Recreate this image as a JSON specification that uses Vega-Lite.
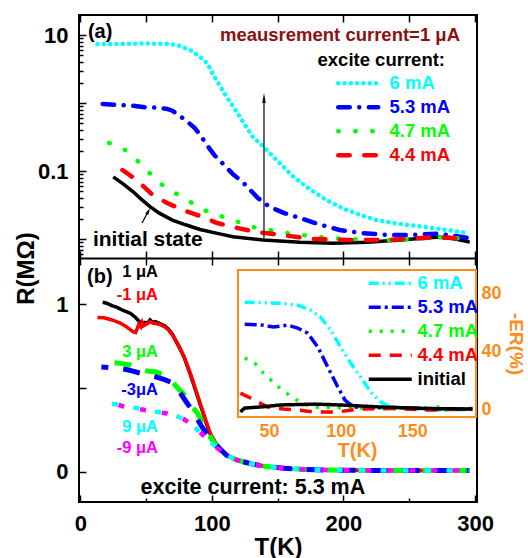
{
"$schema": "https://vega.github.io/schema/vega-lite/v6.json",
"width": 398,
"height": 487,
"autosize": {"type": "none"},
"padding": {"left": 79, "top": 15, "right": 51, "bottom": 56},
"background": "white",
"config": {
  "view": {"stroke": "black", "strokeWidth": 2},
  "font": "Liberation Sans",
  "axis": {"domain": false, "grid": false, "labelFont": "Liberation Sans", "labelFontSize": 22, "labelFontWeight": "bold", "labelColor": "black", "tickColor": "black", "tickWidth": 1.5, "titleFont": "Liberation Sans", "titleFontSize": 24, "titleFontWeight": "bold", "titleColor": "black", "labelFlush": false, "labelOverlap": false},
  "text": {"font": "Liberation Sans", "fontWeight": "bold"},
  "legend": {"labelFont": "Liberation Sans", "labelFontWeight": "bold"}
},
"datasets": {
  "a_excite": [
    {"series":"6 mA","T":13,"R":7.35},{"series":"6 mA","T":30,"R":7.4},{"series":"6 mA","T":50,"R":7.5},{"series":"6 mA","T":68,"R":7.4},{"series":"6 mA","T":76,"R":6.9},{"series":"6 mA","T":85,"R":5.8},{"series":"6 mA","T":92,"R":4.6},{"series":"6 mA","T":97,"R":3.7},{"series":"6 mA","T":101,"R":2.6},{"series":"6 mA","T":106,"R":1.8},{"series":"6 mA","T":111,"R":1.25},{"series":"6 mA","T":116,"R":0.9},{"series":"6 mA","T":121,"R":0.64},{"series":"6 mA","T":126,"R":0.45},{"series":"6 mA","T":131,"R":0.32},{"series":"6 mA","T":139,"R":0.23},{"series":"6 mA","T":150,"R":0.14},{"series":"6 mA","T":162,"R":0.082},{"series":"6 mA","T":175,"R":0.053},{"series":"6 mA","T":187,"R":0.0375},{"series":"6 mA","T":200,"R":0.028},{"series":"6 mA","T":213,"R":0.0225},{"series":"6 mA","T":225,"R":0.019},{"series":"6 mA","T":238,"R":0.0172},{"series":"6 mA","T":253,"R":0.0158},{"series":"6 mA","T":268,"R":0.0145},{"series":"6 mA","T":282,"R":0.0133},{"series":"6 mA","T":295,"R":0.0122},
    {"series":"5.3 mA","T":17,"R":0.97},{"series":"5.3 mA","T":30,"R":0.93},{"series":"5.3 mA","T":40,"R":0.91},{"series":"5.3 mA","T":50,"R":0.865},{"series":"5.3 mA","T":58,"R":0.86},{"series":"5.3 mA","T":66,"R":0.82},{"series":"5.3 mA","T":70,"R":0.77},{"series":"5.3 mA","T":74,"R":0.68},{"series":"5.3 mA","T":80,"R":0.56},{"series":"5.3 mA","T":87,"R":0.43},{"series":"5.3 mA","T":92,"R":0.32},{"series":"5.3 mA","T":97,"R":0.23},{"series":"5.3 mA","T":102,"R":0.17},{"series":"5.3 mA","T":108,"R":0.13},{"series":"5.3 mA","T":116,"R":0.09},{"series":"5.3 mA","T":124,"R":0.067},{"series":"5.3 mA","T":135,"R":0.04},{"series":"5.3 mA","T":144,"R":0.0296},{"series":"5.3 mA","T":155,"R":0.024},{"series":"5.3 mA","T":167,"R":0.0204},{"series":"5.3 mA","T":180,"R":0.0168},{"series":"5.3 mA","T":197,"R":0.0136},{"series":"5.3 mA","T":215,"R":0.0122},{"series":"5.3 mA","T":233,"R":0.0115},{"series":"5.3 mA","T":250,"R":0.0114},{"series":"5.3 mA","T":262,"R":0.0118},{"series":"5.3 mA","T":272,"R":0.012},{"series":"5.3 mA","T":282,"R":0.0113},{"series":"5.3 mA","T":294,"R":0.0104},
    {"series":"4.7 mA","T":22,"R":0.258},{"series":"4.7 mA","T":34,"R":0.204},{"series":"4.7 mA","T":47,"R":0.123},{"series":"4.7 mA","T":59,"R":0.069},{"series":"4.7 mA","T":72,"R":0.0475},{"series":"4.7 mA","T":85,"R":0.0339},{"series":"4.7 mA","T":97,"R":0.025},{"series":"4.7 mA","T":116,"R":0.019},{"series":"4.7 mA","T":131,"R":0.015},{"series":"4.7 mA","T":158,"R":0.0122},{"series":"4.7 mA","T":187,"R":0.0104},{"series":"4.7 mA","T":218,"R":0.0097},{"series":"4.7 mA","T":243,"R":0.0097},{"series":"4.7 mA","T":265,"R":0.0103},{"series":"4.7 mA","T":279,"R":0.0107},{"series":"4.7 mA","T":291,"R":0.01},
    {"series":"4.4 mA","T":32,"R":0.1035},{"series":"4.4 mA","T":43,"R":0.0738},{"series":"4.4 mA","T":55,"R":0.0444},{"series":"4.4 mA","T":66,"R":0.0339},{"series":"4.4 mA","T":78,"R":0.0267},{"series":"4.4 mA","T":89,"R":0.0225},{"series":"4.4 mA","T":104,"R":0.0172},{"series":"4.4 mA","T":116,"R":0.015},{"series":"4.4 mA","T":134,"R":0.0127},{"series":"4.4 mA","T":152,"R":0.0115},{"series":"4.4 mA","T":177,"R":0.01},{"series":"4.4 mA","T":205,"R":0.0097},{"series":"4.4 mA","T":233,"R":0.0097},{"series":"4.4 mA","T":263,"R":0.0104},{"series":"4.4 mA","T":280,"R":0.0105},{"series":"4.4 mA","T":289,"R":0.01}
  ],
  "a_initial": [
    {"T":25,"R":0.082},{"T":32,"R":0.066},{"T":40,"R":0.05},{"T":46,"R":0.039},{"T":53,"R":0.03},{"T":60,"R":0.024},{"T":70,"R":0.019},{"T":80,"R":0.0162},{"T":91,"R":0.0138},{"T":105,"R":0.012},{"T":116,"R":0.0108},{"T":139,"R":0.0097},{"T":167,"R":0.009},{"T":192,"R":0.0087},{"T":218,"R":0.009},{"T":243,"R":0.0097},{"T":260,"R":0.0103},{"T":273,"R":0.0107},{"T":285,"R":0.01},{"T":296,"R":0.009}
  ],
  "b_curves": [
    {"series":"1 μA","T":17,"R":1.01},{"series":"1 μA","T":20,"R":1.005},{"series":"1 μA","T":24,"R":0.99},{"series":"1 μA","T":28,"R":0.98},{"series":"1 μA","T":33,"R":0.96},{"series":"1 μA","T":38,"R":0.945},{"series":"1 μA","T":42,"R":0.92},{"series":"1 μA","T":45,"R":0.895},{"series":"1 μA","T":47,"R":0.88},{"series":"1 μA","T":49,"R":0.89},{"series":"1 μA","T":51,"R":0.885},{"series":"1 μA","T":53,"R":0.905},{"series":"1 μA","T":55,"R":0.89},{"series":"1 μA","T":57,"R":0.895},{"series":"1 μA","T":60,"R":0.885},{"series":"1 μA","T":64,"R":0.87},{"series":"1 μA","T":67,"R":0.85},{"series":"1 μA","T":70,"R":0.82},{"series":"1 μA","T":73,"R":0.774},{"series":"1 μA","T":76,"R":0.73},{"series":"1 μA","T":79,"R":0.68},{"series":"1 μA","T":83,"R":0.595},{"series":"1 μA","T":88,"R":0.476},{"series":"1 μA","T":93,"R":0.357},{"series":"1 μA","T":98,"R":0.238},{"series":"1 μA","T":102,"R":0.18},{"series":"1 μA","T":106,"R":0.143},{"series":"1 μA","T":111,"R":0.1},{"series":"1 μA","T":119,"R":0.071},{"series":"1 μA","T":130,"R":0.048},{"series":"1 μA","T":140,"R":0.034},{"series":"1 μA","T":155,"R":0.022},{"series":"1 μA","T":170,"R":0.015},{"series":"1 μA","T":190,"R":0.011},{"series":"1 μA","T":220,"R":0.009},{"series":"1 μA","T":260,"R":0.008},{"series":"1 μA","T":296,"R":0.008},
    {"series":"-1 μA","T":13,"R":0.92},{"series":"-1 μA","T":18,"R":0.918},{"series":"-1 μA","T":24,"R":0.905},{"series":"-1 μA","T":30,"R":0.888},{"series":"-1 μA","T":35,"R":0.865},{"series":"-1 μA","T":40,"R":0.835},{"series":"-1 μA","T":42,"R":0.83},{"series":"-1 μA","T":43.5,"R":0.86},{"series":"-1 μA","T":44.5,"R":0.88},{"series":"-1 μA","T":46,"R":0.865},{"series":"-1 μA","T":47,"R":0.89},{"series":"-1 μA","T":48,"R":0.87},{"series":"-1 μA","T":50,"R":0.88},{"series":"-1 μA","T":53,"R":0.895},{"series":"-1 μA","T":56,"R":0.885},{"series":"-1 μA","T":60,"R":0.88},{"series":"-1 μA","T":64,"R":0.865},{"series":"-1 μA","T":67,"R":0.845},{"series":"-1 μA","T":70,"R":0.815},{"series":"-1 μA","T":74,"R":0.765},{"series":"-1 μA","T":79,"R":0.685},{"series":"-1 μA","T":84,"R":0.58},{"series":"-1 μA","T":89,"R":0.46},{"series":"-1 μA","T":94,"R":0.34},{"series":"-1 μA","T":99,"R":0.225},{"series":"-1 μA","T":103,"R":0.172},{"series":"-1 μA","T":107,"R":0.135},{"series":"-1 μA","T":112,"R":0.097},{"series":"-1 μA","T":120,"R":0.068},{"series":"-1 μA","T":130,"R":0.048},{"series":"-1 μA","T":140,"R":0.034},{"series":"-1 μA","T":155,"R":0.022},{"series":"-1 μA","T":170,"R":0.015},{"series":"-1 μA","T":190,"R":0.011},{"series":"-1 μA","T":220,"R":0.009},{"series":"-1 μA","T":260,"R":0.008},{"series":"-1 μA","T":296,"R":0.008},
    {"series":"3 μA","T":26,"R":0.65},{"series":"3 μA","T":32,"R":0.645},{"series":"3 μA","T":38,"R":0.637},{"series":"3 μA","T":44,"R":0.62},{"series":"3 μA","T":47,"R":0.607},{"series":"3 μA","T":52,"R":0.6},{"series":"3 μA","T":58,"R":0.595},{"series":"3 μA","T":64,"R":0.575},{"series":"3 μA","T":70,"R":0.536},{"series":"3 μA","T":74,"R":0.5},{"series":"3 μA","T":78,"R":0.47},{"series":"3 μA","T":82,"R":0.42},{"series":"3 μA","T":86,"R":0.38},{"series":"3 μA","T":89,"R":0.35},{"series":"3 μA","T":93,"R":0.29},{"series":"3 μA","T":97,"R":0.23},{"series":"3 μA","T":101,"R":0.18},{"series":"3 μA","T":106,"R":0.14},{"series":"3 μA","T":111,"R":0.1},{"series":"3 μA","T":119,"R":0.071},{"series":"3 μA","T":130,"R":0.048},{"series":"3 μA","T":140,"R":0.034},{"series":"3 μA","T":155,"R":0.022},{"series":"3 μA","T":170,"R":0.015},{"series":"3 μA","T":190,"R":0.011},{"series":"3 μA","T":220,"R":0.009},{"series":"3 μA","T":260,"R":0.008},{"series":"3 μA","T":296,"R":0.008},
    {"series":"-3 μA","T":16,"R":0.625},{"series":"-3 μA","T":22,"R":0.622},{"series":"-3 μA","T":28,"R":0.619},{"series":"-3 μA","T":35,"R":0.61},{"series":"-3 μA","T":40,"R":0.6},{"series":"-3 μA","T":45,"R":0.589},{"series":"-3 μA","T":52,"R":0.577},{"series":"-3 μA","T":58,"R":0.565},{"series":"-3 μA","T":64,"R":0.55},{"series":"-3 μA","T":70,"R":0.53},{"series":"-3 μA","T":74,"R":0.49},{"series":"-3 μA","T":77,"R":0.458},{"series":"-3 μA","T":82,"R":0.4},{"series":"-3 μA","T":87,"R":0.351},{"series":"-3 μA","T":90,"R":0.3},{"series":"-3 μA","T":93,"R":0.262},{"series":"-3 μA","T":97,"R":0.22},{"series":"-3 μA","T":101,"R":0.178},{"series":"-3 μA","T":106,"R":0.138},{"series":"-3 μA","T":111,"R":0.1},{"series":"-3 μA","T":119,"R":0.071},{"series":"-3 μA","T":130,"R":0.048},{"series":"-3 μA","T":140,"R":0.034},{"series":"-3 μA","T":155,"R":0.022},{"series":"-3 μA","T":170,"R":0.015},{"series":"-3 μA","T":190,"R":0.011},{"series":"-3 μA","T":220,"R":0.009},{"series":"-3 μA","T":260,"R":0.008},{"series":"-3 μA","T":296,"R":0.008},
    {"series":"9 μA","T":24,"R":0.405},{"series":"9 μA","T":30,"R":0.4},{"series":"9 μA","T":36,"R":0.385},{"series":"9 μA","T":43,"R":0.38},{"series":"9 μA","T":49,"R":0.375},{"series":"9 μA","T":55,"R":0.36},{"series":"9 μA","T":61,"R":0.355},{"series":"9 μA","T":66,"R":0.35},{"series":"9 μA","T":70,"R":0.342},{"series":"9 μA","T":74,"R":0.33},{"series":"9 μA","T":78,"R":0.315},{"series":"9 μA","T":83,"R":0.29},{"series":"9 μA","T":88,"R":0.26},{"series":"9 μA","T":91,"R":0.232},{"series":"9 μA","T":96,"R":0.2},{"series":"9 μA","T":100,"R":0.17},{"series":"9 μA","T":104,"R":0.143},{"series":"9 μA","T":111,"R":0.1},{"series":"9 μA","T":119,"R":0.071},{"series":"9 μA","T":130,"R":0.048},{"series":"9 μA","T":140,"R":0.034},{"series":"9 μA","T":155,"R":0.022},{"series":"9 μA","T":170,"R":0.015},{"series":"9 μA","T":190,"R":0.011},{"series":"9 μA","T":220,"R":0.009},{"series":"9 μA","T":260,"R":0.008},{"series":"9 μA","T":296,"R":0.008},
    {"series":"-9 μA","T":21,"R":0.417},{"series":"-9 μA","T":27,"R":0.405},{"series":"-9 μA","T":33,"R":0.39},{"series":"-9 μA","T":40,"R":0.38},{"series":"-9 μA","T":47,"R":0.372},{"series":"-9 μA","T":53,"R":0.362},{"series":"-9 μA","T":60,"R":0.355},{"series":"-9 μA","T":66,"R":0.348},{"series":"-9 μA","T":70,"R":0.338},{"series":"-9 μA","T":74,"R":0.33},{"series":"-9 μA","T":78,"R":0.318},{"series":"-9 μA","T":83,"R":0.292},{"series":"-9 μA","T":88,"R":0.262},{"series":"-9 μA","T":92,"R":0.23},{"series":"-9 μA","T":96,"R":0.198},{"series":"-9 μA","T":100,"R":0.168},{"series":"-9 μA","T":104,"R":0.142},{"series":"-9 μA","T":111,"R":0.1},{"series":"-9 μA","T":119,"R":0.071},{"series":"-9 μA","T":130,"R":0.048},{"series":"-9 μA","T":140,"R":0.034},{"series":"-9 μA","T":155,"R":0.022},{"series":"-9 μA","T":170,"R":0.015},{"series":"-9 μA","T":190,"R":0.011},{"series":"-9 μA","T":220,"R":0.009},{"series":"-9 μA","T":260,"R":0.008},{"series":"-9 μA","T":296,"R":0.008}
  ],
  "inset": [
    {"series":"6 mA","T":33,"ER":73.8},{"series":"6 mA","T":45,"ER":73.5},{"series":"6 mA","T":58,"ER":73},{"series":"6 mA","T":70,"ER":71.7},{"series":"6 mA","T":79,"ER":68.3},{"series":"6 mA","T":86,"ER":63.4},{"series":"6 mA","T":93,"ER":54.5},{"series":"6 mA","T":100,"ER":42.8},{"series":"6 mA","T":107,"ER":31.7},{"series":"6 mA","T":114,"ER":22},{"series":"6 mA","T":121,"ER":11.7},{"series":"6 mA","T":128,"ER":4.8},{"series":"6 mA","T":135,"ER":1.4},{"series":"6 mA","T":145,"ER":0.5},{"series":"6 mA","T":163,"ER":-0.7},{"series":"6 mA","T":178,"ER":-0.5},{"series":"6 mA","T":192,"ER":-0.3},
    {"series":"5.3 mA","T":33,"ER":58.6},{"series":"5.3 mA","T":46,"ER":57.9},{"series":"5.3 mA","T":53,"ER":56.6},{"series":"5.3 mA","T":63,"ER":57.9},{"series":"5.3 mA","T":70,"ER":55.9},{"series":"5.3 mA","T":77,"ER":52.4},{"series":"5.3 mA","T":84,"ER":42.8},{"series":"5.3 mA","T":91,"ER":29},{"series":"5.3 mA","T":98,"ER":15.2},{"series":"5.3 mA","T":103,"ER":6.2},{"series":"5.3 mA","T":109,"ER":1.4},{"series":"5.3 mA","T":120,"ER":0.8},{"series":"5.3 mA","T":138,"ER":1},{"series":"5.3 mA","T":160,"ER":0.5},{"series":"5.3 mA","T":175,"ER":0.2},{"series":"5.3 mA","T":192,"ER":0},
    {"series":"4.7 mA","T":33,"ER":35.2},{"series":"4.7 mA","T":40,"ER":31.7},{"series":"4.7 mA","T":46,"ER":24.8},{"series":"4.7 mA","T":53,"ER":18.6},{"series":"4.7 mA","T":59,"ER":13.1},{"series":"4.7 mA","T":67,"ER":7.6},{"series":"4.7 mA","T":74,"ER":3.4},{"series":"4.7 mA","T":82,"ER":1.4},{"series":"4.7 mA","T":93,"ER":1},{"series":"4.7 mA","T":110,"ER":0.8},{"series":"4.7 mA","T":123,"ER":0.3},{"series":"4.7 mA","T":150,"ER":0.3},{"series":"4.7 mA","T":165,"ER":0.5},{"series":"4.7 mA","T":172,"ER":2.5},{"series":"4.7 mA","T":175,"ER":-3},{"series":"4.7 mA","T":180,"ER":0},{"series":"4.7 mA","T":192,"ER":0},
    {"series":"4.4 mA","T":30,"ER":11},{"series":"4.4 mA","T":37,"ER":7.6},{"series":"4.4 mA","T":49,"ER":1.4},{"series":"4.4 mA","T":60,"ER":0},{"series":"4.4 mA","T":70,"ER":-0.7},{"series":"4.4 mA","T":81,"ER":-2},{"series":"4.4 mA","T":98,"ER":-2},{"series":"4.4 mA","T":112,"ER":0},{"series":"4.4 mA","T":139,"ER":0.3},{"series":"4.4 mA","T":162,"ER":-0.7},{"series":"4.4 mA","T":192,"ER":0.3},
    {"series":"initial","T":30,"ER":-2},{"series":"initial","T":31,"ER":-1},{"series":"initial","T":33,"ER":0.7},{"series":"initial","T":44,"ER":1.4},{"series":"initial","T":58,"ER":2.8},{"series":"initial","T":82,"ER":3.4},{"series":"initial","T":100,"ER":2.8},{"series":"initial","T":128,"ER":1.4},{"series":"initial","T":162,"ER":0.3},{"series":"initial","T":192,"ER":0}
  ]
},
"layer": [
  {
    "layer": [
      {"data": {"name": "a_initial"},
       "mark": {"type": "line", "color": "black", "strokeWidth": 3.5},
       "encoding": {
         "x": {"field": "T", "type": "quantitative", "scale": {"domain": [-1, 301.5], "nice": false, "zero": false},
               "axis": {"orient": "top", "values": [0,50,100,150,200,250,300], "labels": false, "tickSize": -7, "title": null}},
         "y": {"field": "R", "type": "quantitative", "scale": {"type": "log", "domain": [0.00526, 19.7], "range": [243, 0], "nice": false},
               "axis": {"orient": "left", "values": [0.01, 0.1, 1, 10], "tickSize": -7, "labelPadding": 18, "labelExpr": "datum.value == 10 ? '10' : datum.value == 0.1 ? '0.1' : ''", "title": "R(MΩ)", "titleX": -53, "titleY": 253, "titleAngle": -90, "titleAlign": "center", "titleBaseline": "middle"}}
       }},
      {"data": {"name": "a_excite"},
       "mark": {"type": "line", "strokeWidth": 4.5, "strokeCap": "round"},
       "encoding": {
         "x": {"field": "T", "type": "quantitative", "scale": {"domain": [-1, 301.5], "nice": false, "zero": false},
               "axis": {"orient": "bottom", "offset": -244, "values": [0,50,100,150,200,250,300], "labels": false, "tickSize": -7, "title": null, "domain": true, "domainColor": "black", "domainWidth": 2}},
         "y": {"field": "R", "type": "quantitative", "scale": {"type": "log", "domain": [0.00526, 19.7], "range": [243, 0], "nice": false},
               "axis": {"orient": "left", "values": [0.006,0.007,0.008,0.009,0.02,0.03,0.04,0.05,0.06,0.07,0.08,0.09,0.2,0.3,0.4,0.5,0.6,0.7,0.8,0.9,2,3,4,5,6,7,8,9], "tickSize": -4, "labels": false, "title": null}},
         "color": {"field": "series", "type": "nominal",
                   "scale": {"domain": ["6 mA","5.3 mA","4.7 mA","4.4 mA"], "range": ["#00FFFF","#0000FF","#00FF00","#FF0000"]},
                   "legend": {"title": null, "orient": "none", "legendX": 270, "legendY": 59, "padding": 0, "symbolType": "M-4,0L4,0", "symbolSize": 100, "symbolStrokeWidth": 4.5, "labelOffset": 22, "labelFontSize": 18.5, "labelFont": "Liberation Sans", "labelFontWeight": "bold", "rowPadding": 5,
                              "encode": {"labels": {"update": {"fill": {"signal": "datum.label == '6 mA' ? '#00FFFF' : datum.label == '5.3 mA' ? '#0000FF' : datum.label == '4.7 mA' ? '#00FF00' : '#FF0000'"}}}, "symbols": {"update": {"strokeCap": {"value": "round"}}}}}},
         "strokeDash": {"field": "series", "type": "nominal",
                   "scale": {"domain": ["6 mA","5.3 mA","4.7 mA","4.4 mA"], "range": [[0.1,6.2],[11.5,9.5,0.1,9.5],[0.5,16.5],[11.5,14.5]]},
                   "legend": {"title": null, "orient": "none", "legendX": 270, "legendY": 59, "padding": 0, "symbolType": "M-4,0L4,0", "symbolSize": 100, "symbolStrokeWidth": 4.5, "labelOffset": 22, "labelFontSize": 18.5, "labelFont": "Liberation Sans", "labelFontWeight": "bold", "rowPadding": 5,
                              "encode": {"labels": {"update": {"fill": {"signal": "datum.label == '6 mA' ? '#00FFFF' : datum.label == '5.3 mA' ? '#0000FF' : datum.label == '4.7 mA' ? '#00FF00' : '#FF0000'"}}}, "symbols": {"update": {"strokeCap": {"value": "round"}}}}}}
       }},
      {"data": {"values": [{}]}, "mark": {"type": "text", "text": "(a)", "align": "left", "baseline": "middle", "fontSize": 20, "color": "black"},
       "encoding": {"x": {"datum": 5.8, "type": "quantitative", "scale": {"domain": [-1, 301.5], "nice": false, "zero": false}, "axis": null}, "y": {"datum": 11.07, "type": "quantitative", "scale": {"type": "log", "domain": [0.00526, 19.7], "range": [243, 0], "nice": false}, "axis": null}}},
      {"data": {"values": [{}]}, "mark": {"type": "text", "text": "meausrement current=1 μA", "align": "right", "baseline": "middle", "fontSize": 18.5, "color": "#8B1010"},
       "encoding": {"x": {"datum": 288.6, "type": "quantitative", "scale": {"domain": [-1, 301.5], "nice": false, "zero": false}, "axis": null}, "y": {"datum": 10, "type": "quantitative", "scale": {"type": "log", "domain": [0.00526, 19.7], "range": [243, 0], "nice": false}, "axis": null}}},
      {"data": {"values": [{}]}, "mark": {"type": "text", "text": "excite current:", "align": "right", "baseline": "middle", "fontSize": 18.5, "color": "black"},
       "encoding": {"x": {"datum": 277.2, "type": "quantitative", "scale": {"domain": [-1, 301.5], "nice": false, "zero": false}, "axis": null}, "y": {"datum": 4.29, "type": "quantitative", "scale": {"type": "log", "domain": [0.00526, 19.7], "range": [243, 0], "nice": false}, "axis": null}}},
      {"data": {"values": [{}]}, "mark": {"type": "text", "text": "initial state", "align": "left", "baseline": "middle", "fontSize": 21, "color": "black"},
       "encoding": {"x": {"datum": 9.6, "type": "quantitative", "scale": {"domain": [-1, 301.5], "nice": false, "zero": false}, "axis": null}, "y": {"datum": 0.00966, "type": "quantitative", "scale": {"type": "log", "domain": [0.00526, 19.7], "range": [243, 0], "nice": false}, "axis": null}}},
      {"data": {"values": [{}]}, "mark": {"type": "rule", "color": "black", "strokeWidth": 1.2},
       "encoding": {"x": {"datum": 139.6, "type": "quantitative", "scale": {"domain": [-1, 301.5], "nice": false, "zero": false}, "axis": null}, "y": {"datum": 0.0103, "type": "quantitative", "scale": {"type": "log", "domain": [0.00526, 19.7], "range": [243, 0], "nice": false}, "axis": null}, "y2": {"datum": 1.18}}},
      {"data": {"values": [{}]}, "mark": {"type": "point", "shape": "M0,-1L-0.35,1L0.35,1Z", "filled": true, "color": "black", "size": 100, "opacity": 1},
       "encoding": {"x": {"datum": 139.6, "type": "quantitative", "scale": {"domain": [-1, 301.5], "nice": false, "zero": false}, "axis": null}, "y": {"datum": 1.184, "type": "quantitative", "scale": {"type": "log", "domain": [0.00526, 19.7], "range": [243, 0], "nice": false}, "axis": null}}},
      {"data": {"values": [{}]}, "mark": {"type": "rule", "color": "black", "strokeWidth": 1.2},
       "encoding": {"x": {"datum": 46.9, "type": "quantitative", "scale": {"domain": [-1, 301.5], "nice": false, "zero": false}, "axis": null}, "x2": {"datum": 51.75}, "y": {"datum": 0.0172, "type": "quantitative", "scale": {"type": "log", "domain": [0.00526, 19.7], "range": [243, 0], "nice": false}, "axis": null}, "y2": {"datum": 0.0257}}},
      {"data": {"values": [{}]}, "mark": {"type": "point", "shape": "M0,-1L-0.5,1L0.5,1Z", "filled": true, "color": "black", "size": 49, "opacity": 1, "angle": 28},
       "encoding": {"x": {"datum": 51.75, "type": "quantitative", "scale": {"domain": [-1, 301.5], "nice": false, "zero": false}, "axis": null}, "y": {"datum": 0.0257, "type": "quantitative", "scale": {"type": "log", "domain": [0.00526, 19.7], "range": [243, 0], "nice": false}, "axis": null}}}
    ],
    "resolve": {"axis": {"x": "independent", "y": "independent"}}
  },
  {
    "layer": [
      {"data": {"name": "b_curves"}, "transform": [{"filter": "datum.series == '1 μA'"}],
       "mark": {"type": "line", "color": "black", "strokeWidth": 3.5},
       "encoding": {
         "x": {"field": "T", "type": "quantitative", "scale": {"domain": [-1, 301.5], "nice": false, "zero": false},
               "axis": {"orient": "bottom", "values": [0,100,200,300], "tickSize": -7, "labelPadding": 18, "title": "T(K)", "titleY": 45, "titleBaseline": "middle"}},
         "y": {"field": "R", "type": "quantitative", "scale": {"domain": [-0.179, 1.274], "range": [487, 243], "nice": false, "zero": false},
               "axis": {"orient": "left", "values": [0, 0.5, 1], "tickSize": -7, "labelPadding": 18, "labelExpr": "datum.value == 1 ? '1' : datum.value == 0 ? '0' : ''", "title": null}}
       }},
      {"data": {"name": "b_curves"}, "transform": [{"filter": "datum.series == '-1 μA'"}],
       "mark": {"type": "line", "color": "#FF0000", "strokeWidth": 3.5},
       "encoding": {
         "x": {"field": "T", "type": "quantitative", "scale": {"domain": [-1, 301.5], "nice": false, "zero": false},
               "axis": {"orient": "bottom", "values": [50,150,250], "tickSize": -4, "labels": false, "title": null}},
         "y": {"field": "R", "type": "quantitative", "scale": {"domain": [-0.179, 1.274], "range": [487, 243], "nice": false, "zero": false}, "axis": null}
       }},
      {"data": {"name": "b_curves"}, "transform": [{"filter": "datum.series == '3 μA'"}],
       "mark": {"type": "line", "color": "#00FF00", "strokeWidth": 5, "strokeDash": [17, 15]},
       "encoding": {
         "x": {"field": "T", "type": "quantitative", "scale": {"domain": [-1, 301.5], "nice": false, "zero": false},
               "axis": {"orient": "top", "offset": -243, "values": [0,50,100,150,200,250,300], "tickSize": -7, "labels": false, "title": null}},
         "y": {"field": "R", "type": "quantitative", "scale": {"domain": [-0.179, 1.274], "range": [487, 243], "nice": false, "zero": false}, "axis": null}
       }},
      {"data": {"name": "b_curves"}, "transform": [{"filter": "datum.series == '-3 μA'"}],
       "mark": {"type": "line", "color": "#0000FF", "strokeWidth": 5, "strokeDash": [17, 15], "strokeDashOffset": 10},
       "encoding": {
         "x": {"field": "T", "type": "quantitative", "scale": {"domain": [-1, 301.5], "nice": false, "zero": false}, "axis": null},
         "y": {"field": "R", "type": "quantitative", "scale": {"domain": [-0.179, 1.274], "range": [487, 243], "nice": false, "zero": false}, "axis": null}
       }},
      {"data": {"name": "b_curves"}, "transform": [{"filter": "datum.series == '9 μA'"}],
       "mark": {"type": "line", "color": "#00FFFF", "strokeWidth": 4.5, "strokeDash": [6, 16]},
       "encoding": {
         "x": {"field": "T", "type": "quantitative", "scale": {"domain": [-1, 301.5], "nice": false, "zero": false}, "axis": null},
         "y": {"field": "R", "type": "quantitative", "scale": {"domain": [-0.179, 1.274], "range": [487, 243], "nice": false, "zero": false}, "axis": null}
       }},
      {"data": {"name": "b_curves"}, "transform": [{"filter": "datum.series == '-9 μA'"}],
       "mark": {"type": "line", "color": "#FF00FF", "strokeWidth": 4.5, "strokeDash": [6, 16], "strokeDashOffset": 11},
       "encoding": {
         "x": {"field": "T", "type": "quantitative", "scale": {"domain": [-1, 301.5], "nice": false, "zero": false}, "axis": null},
         "y": {"field": "R", "type": "quantitative", "scale": {"domain": [-0.179, 1.274], "range": [487, 243], "nice": false, "zero": false}, "axis": null}
       }},
      {"data": {"values": [{}]}, "mark": {"type": "text", "text": "(b)", "align": "left", "baseline": "middle", "fontSize": 20, "color": "black"},
       "encoding": {"x": {"datum": 5.1, "type": "quantitative", "scale": {"domain": [-1, 301.5], "nice": false, "zero": false}, "axis": null}, "y": {"datum": 1.161, "type": "quantitative", "scale": {"domain": [-0.179, 1.274], "range": [487, 243], "nice": false, "zero": false}, "axis": null}}},
      {"data": {"values": [{}]}, "mark": {"type": "text", "text": "1 μA", "align": "right", "baseline": "middle", "fontSize": 16.5, "color": "black"},
       "encoding": {"x": {"datum": 59, "type": "quantitative", "scale": {"domain": [-1, 301.5], "nice": false, "zero": false}, "axis": null}, "y": {"datum": 1.191, "type": "quantitative", "scale": {"domain": [-0.179, 1.274], "range": [487, 243], "nice": false, "zero": false}, "axis": null}}},
      {"data": {"values": [{}]}, "mark": {"type": "text", "text": "-1 μA", "align": "right", "baseline": "middle", "fontSize": 16.5, "color": "#FF0000"},
       "encoding": {"x": {"datum": 59, "type": "quantitative", "scale": {"domain": [-1, 301.5], "nice": false, "zero": false}, "axis": null}, "y": {"datum": 1.054, "type": "quantitative", "scale": {"domain": [-0.179, 1.274], "range": [487, 243], "nice": false, "zero": false}, "axis": null}}},
      {"data": {"values": [{}]}, "mark": {"type": "text", "text": "3 μA", "align": "right", "baseline": "middle", "fontSize": 16.5, "color": "#00FF00"},
       "encoding": {"x": {"datum": 59, "type": "quantitative", "scale": {"domain": [-1, 301.5], "nice": false, "zero": false}, "axis": null}, "y": {"datum": 0.714, "type": "quantitative", "scale": {"domain": [-0.179, 1.274], "range": [487, 243], "nice": false, "zero": false}, "axis": null}}},
      {"data": {"values": [{}]}, "mark": {"type": "text", "text": "-3μA", "align": "right", "baseline": "middle", "fontSize": 16.5, "color": "#0000FF"},
       "encoding": {"x": {"datum": 59, "type": "quantitative", "scale": {"domain": [-1, 301.5], "nice": false, "zero": false}, "axis": null}, "y": {"datum": 0.488, "type": "quantitative", "scale": {"domain": [-0.179, 1.274], "range": [487, 243], "nice": false, "zero": false}, "axis": null}}},
      {"data": {"values": [{}]}, "mark": {"type": "text", "text": "9 μA", "align": "right", "baseline": "middle", "fontSize": 16.5, "color": "#00FFFF"},
       "encoding": {"x": {"datum": 59, "type": "quantitative", "scale": {"domain": [-1, 301.5], "nice": false, "zero": false}, "axis": null}, "y": {"datum": 0.268, "type": "quantitative", "scale": {"domain": [-0.179, 1.274], "range": [487, 243], "nice": false, "zero": false}, "axis": null}}},
      {"data": {"values": [{}]}, "mark": {"type": "text", "text": "-9 μA", "align": "right", "baseline": "middle", "fontSize": 16.5, "color": "#FF00FF"},
       "encoding": {"x": {"datum": 59, "type": "quantitative", "scale": {"domain": [-1, 301.5], "nice": false, "zero": false}, "axis": null}, "y": {"datum": 0.143, "type": "quantitative", "scale": {"domain": [-0.179, 1.274], "range": [487, 243], "nice": false, "zero": false}, "axis": null}}},
      {"data": {"values": [{}]}, "mark": {"type": "text", "text": "excite current: 5.3 mA", "align": "center", "baseline": "middle", "fontSize": 21.5, "color": "black"},
       "encoding": {"x": {"datum": 131.2, "type": "quantitative", "scale": {"domain": [-1, 301.5], "nice": false, "zero": false}, "axis": null}, "y": {"datum": -0.096, "type": "quantitative", "scale": {"domain": [-0.179, 1.274], "range": [487, 243], "nice": false, "zero": false}, "axis": null}}}
    ],
    "resolve": {"axis": {"x": "independent", "y": "independent"}}
  },
  {
    "layer": [
      {"data": {"values": [{}]},
       "mark": {"type": "rect", "fill": "white", "stroke": "#FF8C1A", "strokeWidth": 2},
       "encoding": {
         "x": {"datum": 28.3, "type": "quantitative", "scale": {"domain": [28.3, 194.5], "range": [159, 397], "nice": false, "zero": false},
               "axis": {"orient": "bottom", "offset": -85, "values": [50, 100, 150], "tickSize": -5, "tickColor": "#FF8C1A", "labelColor": "#FF8C1A", "labelFontSize": 18, "labelPadding": 10, "title": "T(K)", "titleColor": "#FF8C1A", "titleFontSize": 20, "titleY": 33, "titleBaseline": "middle"}},
         "x2": {"datum": 194.5},
         "y": {"datum": -5.5, "type": "quantitative", "scale": {"domain": [-5.5, 96], "range": [402, 255], "nice": false, "zero": false},
               "axis": {"orient": "right", "offset": -1, "values": [0, 20, 40, 60, 80], "tickSize": -5, "tickColor": "#FF8C1A", "labelColor": "#FF8C1A", "labelFontSize": 18, "labelPadding": 10, "labelExpr": "datum.value % 40 == 0 ? datum.label : ''", "title": "-ER(%)", "titleColor": "#FF8C1A", "titleFontSize": 19, "titleX": 39, "titleY": 328.5, "titleAngle": 90, "titleAlign": "center", "titleBaseline": "middle"}},
         "y2": {"datum": 96}
       }},
      {"data": {"name": "inset"},
       "mark": {"type": "line", "strokeWidth": 3.5},
       "encoding": {
         "x": {"field": "T", "type": "quantitative", "scale": {"domain": [28.3, 194.5], "range": [159, 397], "nice": false, "zero": false}, "axis": null},
         "y": {"field": "ER", "type": "quantitative", "scale": {"domain": [-5.5, 96], "range": [402, 255], "nice": false, "zero": false}, "axis": null},
         "color": {"field": "series", "type": "nominal",
                   "scale": {"domain": ["6 mA","5.3 mA","4.7 mA","4.4 mA","initial"], "range": ["#00FFFF","#0000FF","#00FF00","#FF0000","#000000"]},
                   "legend": {"title": null, "orient": "none", "legendX": 302, "legendY": 259, "padding": 0, "symbolType": "M-4.3,0L4.3,0", "symbolSize": 100, "symbolStrokeWidth": 3.5, "labelOffset": 18, "labelFontSize": 18.5, "labelFont": "Liberation Sans", "labelFontWeight": "bold", "rowPadding": 5,
                              "encode": {"labels": {"update": {"fill": {"signal": "datum.label == '6 mA' ? '#00FFFF' : datum.label == '5.3 mA' ? '#0000FF' : datum.label == '4.7 mA' ? '#00FF00' : datum.label == '4.4 mA' ? '#FF0000' : '#000000'"}}}}}},
         "strokeDash": {"field": "series", "type": "nominal",
                   "scale": {"domain": ["6 mA","5.3 mA","4.7 mA","4.4 mA","initial"], "range": [[10,4,2,4,2,4],[12,4,3,4],[3,8],[12,9],[1,0]]},
                   "legend": {"title": null, "orient": "none", "legendX": 302, "legendY": 259, "padding": 0, "symbolType": "M-4.3,0L4.3,0", "symbolSize": 100, "symbolStrokeWidth": 3.5, "labelOffset": 18, "labelFontSize": 18.5, "labelFont": "Liberation Sans", "labelFontWeight": "bold", "rowPadding": 5,
                              "encode": {"labels": {"update": {"fill": {"signal": "datum.label == '6 mA' ? '#00FFFF' : datum.label == '5.3 mA' ? '#0000FF' : datum.label == '4.7 mA' ? '#00FF00' : datum.label == '4.4 mA' ? '#FF0000' : '#000000'"}}}}}}
       }}
    ],
    "resolve": {"axis": {"x": "independent", "y": "independent"}}
  }
],
"resolve": {
  "scale": {"x": "independent", "y": "independent", "color": "independent", "strokeDash": "independent"},
  "axis": {"x": "independent", "y": "independent"},
  "legend": {"color": "independent", "strokeDash": "independent"}
}
}
